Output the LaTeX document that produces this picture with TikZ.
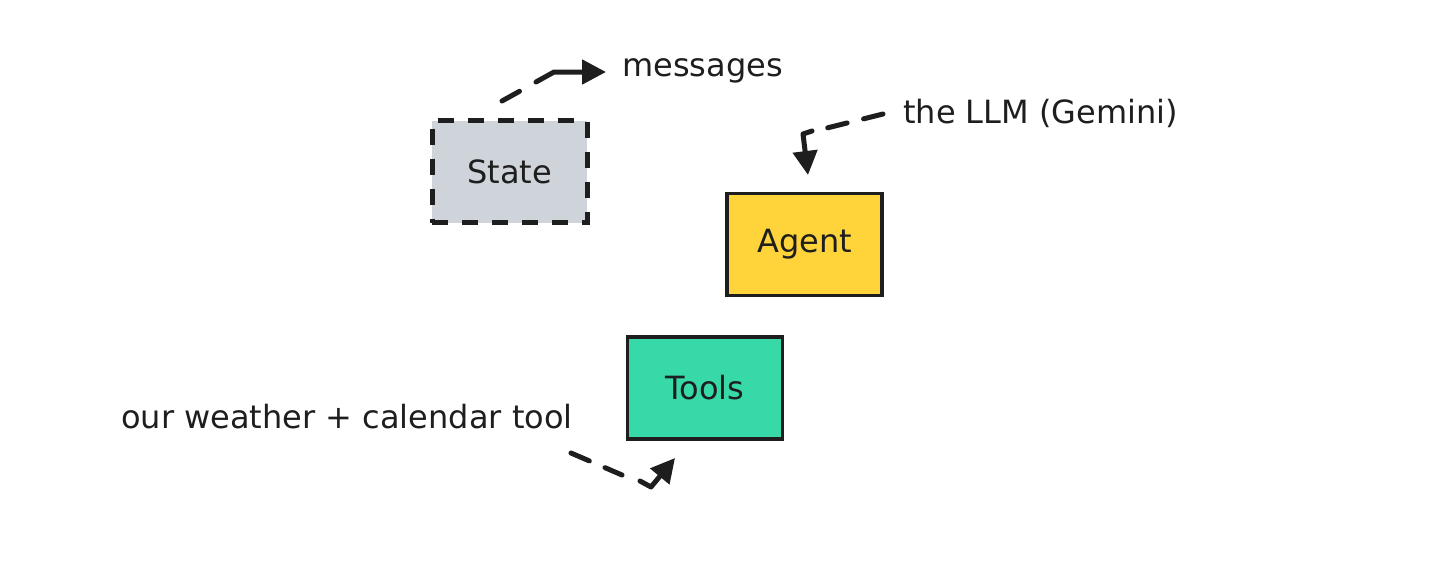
\documentclass[tikz,border=0pt]{standalone}
\usepackage{fontspec}
\setmainfont{DejaVu Sans}
\usetikzlibrary{arrows.meta}
\definecolor{ink}{HTML}{1E1E1E}
\definecolor{stategray}{HTML}{CED4DA}
\definecolor{agentyellow}{HTML}{FFD43B}
\definecolor{toolsgreen}{HTML}{38D9A9}
\begin{document}
\begin{tikzpicture}[
        x=1pt, y=-1pt,
        every node/.style={
            font=\fontsize{32}{36}\selectfont,
            text=ink,
            inner sep=0pt},
        box/.style={
            draw=ink,
            line width=3.5pt,
            minimum width=155pt,
            minimum height=102pt},
        note/.style={anchor=base west},
        dashline/.style={
            draw=ink,
            line width=5pt,
            line cap=round,
            dash pattern=on 20pt off 17pt},
        tipline/.style={
            draw=ink,
            line width=5pt,
            line cap=round,
            line join=round,
            -{Triangle[length=24pt,width=24pt]}}]
        \useasboundingbox (0,0) rectangle (1438,568);

        \node[box, fill=stategray, line width=5pt, dash pattern=on 16pt off 14pt] (state) at (509.5,171.5) {State};
        \node[box, fill=agentyellow] (agent) at (804.5,244.5) {Agent};
        \node[box, fill=toolsgreen] (tools) at (705,388) {Tools};

        \node[note] (msg) at (622,76) {messages};
        \node[note] (llm) at (903,123) {the LLM (Gemini)};
        \node[note] (weather) at (121,428) {our weather + calendar tool};

        % State -> messages
        \coordinate (msgstart) at (502,101);
        \coordinate (msgdash) at (520,91);
        \coordinate (msgin) at (536,82);
        \coordinate (msgbend) at (554,72);
        \coordinate (msgend) at (606,72);
        \draw[dashline] (msgstart) -- (msgdash);
        \draw[tipline] (msgin) -- (msgbend) -- (msgend);

        % LLM -> Agent
        \coordinate (llmstart) at (883,114);
        \coordinate (llmdash) at (827,128);
        \coordinate (llmin) at (812,131);
        \coordinate (llmbend) at (803,134);
        \coordinate (llmend) at (808,175);
        \draw[dashline] (llmstart) -- (llmdash);
        \draw[tipline] (llmin) -- (llmbend) -- (llmend);

        % tool -> Tools
        \coordinate (toolstart) at (571,453);
        \coordinate (tooldash) at (622,475);
        \coordinate (toolin) at (640,481);
        \coordinate (toolbend) at (651,487);
        \coordinate (toolend) at (675,458);
        \draw[dashline] (toolstart) -- (tooldash);
        \draw[tipline] (toolin) -- (toolbend) -- (toolend);
    \end{tikzpicture}
\end{document}
